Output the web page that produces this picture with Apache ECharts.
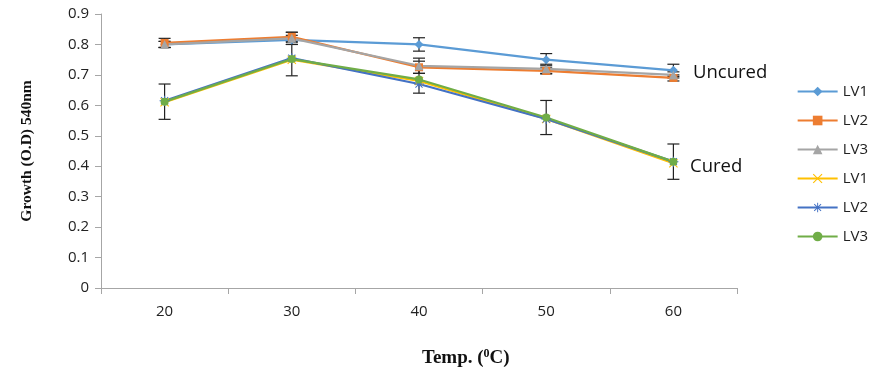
<!DOCTYPE html>
<html>
<head>
<meta charset="utf-8">
<script src="https://cdn.jsdelivr.net/npm/echarts@6/dist/echarts.min.js"></script>
<style>
  html, body { margin: 0; padding: 0; background: #fff; }
  #chart { width: 888px; height: 373px; }
</style>
</head>
<body>
<div id="chart"></div>
<script>
// Temperatures on the x axis
const temps = ['20', '30', '40', '50', '60'];

// Uncured growth (O.D 540nm)
const uncuredLV1 = [0.800, 0.815, 0.800, 0.750, 0.715];
const uncuredLV2 = [0.805, 0.825, 0.725, 0.713, 0.690];
const uncuredLV3 = [0.800, 0.820, 0.730, 0.720, 0.700];

// Cured growth (O.D 540nm)
const curedLV1 = [0.610, 0.750, 0.680, 0.555, 0.410];
const curedLV2 = [0.615, 0.755, 0.670, 0.555, 0.415];
const curedLV3 = [0.612, 0.752, 0.685, 0.560, 0.415];

// Error bar half-widths
const uncuredLV1Err = [0.010, 0.015, 0.022, 0.020, 0.020];
const uncuredLV2Err = [0.015, 0.015, 0.020, 0.010, 0.010];
const uncuredLV3Err = [0.010, 0.020, 0.025, 0.015, 0.010];
const curedLV3Err = [0.058, 0.055, 0.045, 0.056, 0.058];

const yTicks = [0, 0.1, 0.2, 0.3, 0.4, 0.5, 0.6, 0.7, 0.8, 0.9];

const chart = echarts.init(document.getElementById('chart'));

function lineSeries(name, data, color, symbol, size) {
  return {
    name: name,
    type: 'line',
    data: data,
    symbol: symbol,
    symbolSize: size,
    z: 3,
    lineStyle: { color: color, width: 2.25 },
    itemStyle: { color: color }
  };
}

function errorSeries(values, errs) {
  return {
    type: 'custom',
    silent: true,
    z: 2,
    data: values.map((v, i) => [i, v - errs[i], v + errs[i]]),
    renderItem: function (params, api) {
      const lo = api.coord([api.value(0), api.value(1)]);
      const hi = api.coord([api.value(0), api.value(2)]);
      const w = 6;
      const style = { stroke: '#222', lineWidth: 1.2 };
      return {
        type: 'group',
        children: [
          { type: 'line', shape: { x1: lo[0], y1: lo[1], x2: hi[0], y2: hi[1] }, style: style },
          { type: 'line', shape: { x1: lo[0] - w, y1: lo[1], x2: lo[0] + w, y2: lo[1] }, style: style },
          { type: 'line', shape: { x1: hi[0] - w, y1: hi[1], x2: hi[0] + w, y2: hi[1] }, style: style }
        ]
      };
    }
  };
}

// filled shapes so the thin marker arms show up
const crossPath = 'path://M0.7,1.4L1.4,0.7L9.3,8.6L8.6,9.3Z M8.6,0.7L9.3,1.4L1.4,9.3L0.7,8.6Z';
const starPath = 'path://M4.5,0L5.5,0L5.5,10L4.5,10Z M0,4.5L10,4.5L10,5.5L0,5.5Z ' +
  'M1.1,1.8L1.8,1.1L8.9,8.2L8.2,8.9Z M8.2,1.1L8.9,1.8L1.8,8.9L1.1,8.2Z';

const option = {
  animation: false,
  textStyle: { fontFamily: 'Open Sans' },
  grid: { left: 101, top: 14, right: 151, bottom: 85 },
  legend: {
    orient: 'vertical',
    right: 15,
    top: 79,
    itemWidth: 40,
    itemHeight: 12,
    itemGap: 14,
    data: ['LV1', 'LV2', 'LV3', 'LV1 ', 'LV2 ', 'LV3 '],
    formatter: n => n.trim(),
    textStyle: { fontSize: 15, color: '#222', fontFamily: 'Open Sans' }
  },
  xAxis: {
    type: 'category',
    data: temps,
    boundaryGap: true,
    axisLine: { lineStyle: { color: '#a6a6a6', width: 1 } },
    axisTick: { show: true, length: 6, lineStyle: { color: '#a6a6a6' } },
    axisLabel: { fontSize: 15, color: '#222', margin: 16 }
  },
  yAxis: {
    type: 'value',
    min: 0,
    max: 0.9,
    interval: 0.1,
    name: 'Growth (O.D) 540nm',
    nameLocation: 'middle',
    nameGap: 66,
    nameTextStyle: { fontFamily: 'Liberation Serif', fontWeight: 'bold', fontSize: 15.5, color: '#111' },
    splitLine: { show: false },
    axisLine: { show: true, lineStyle: { color: '#a6a6a6', width: 1 } },
    axisTick: { show: true, length: 6, lineStyle: { color: '#a6a6a6' } },
    axisLabel: {
      fontSize: 15,
      color: '#222',
      margin: 12,
      formatter: v => yTicks.includes(Math.round(v * 10) / 10) ? String(Math.round(v * 10) / 10) : ''
    }
  },
  graphic: [
    { type: 'text', left: 693, top: 63, style: { text: 'Uncured', fontSize: 18.5, fontFamily: 'Open Sans', fill: '#111' } },
    { type: 'text', left: 690, top: 157, style: { text: 'Cured', fontSize: 18.5, fontFamily: 'Open Sans', fill: '#111' } },
    {
      type: 'text', left: 422, top: 348,
      style: {
        text: '{a|Temp. (}{s|0}{a|C)}',
        rich: {
          a: { fontFamily: 'Liberation Serif', fontWeight: 'bold', fontSize: 19, fill: '#111' },
          s: { fontFamily: 'Liberation Serif', fontWeight: 'bold', fontSize: 12, fill: '#111', verticalAlign: 'top', padding: [0, 0, 8, 0] }
        }
      }
    }
  ],
  series: [
    errorSeries(uncuredLV1, uncuredLV1Err),
    errorSeries(uncuredLV2, uncuredLV2Err),
    errorSeries(uncuredLV3, uncuredLV3Err),
    errorSeries(curedLV3, curedLV3Err),
    lineSeries('LV1', uncuredLV1, '#5b9bd5', 'diamond', 9),
    lineSeries('LV2', uncuredLV2, '#ed7d31', 'rect', 8),
    lineSeries('LV3', uncuredLV3, '#a5a5a5', 'triangle', 9),
    lineSeries('LV1 ', curedLV1, '#ffc000', crossPath, 9),
    lineSeries('LV2 ', curedLV2, '#4472c4', starPath, 10),
    lineSeries('LV3 ', curedLV3, '#70ad47', 'circle', 8)
  ]
};

chart.setOption(option);
</script>
</body>
</html>
